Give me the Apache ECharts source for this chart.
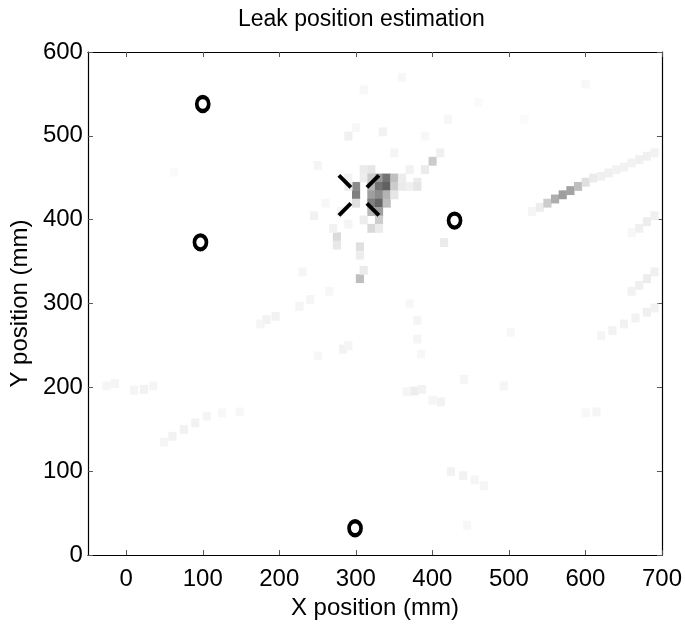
<!DOCTYPE html>
<html>
<head>
<meta charset="utf-8">
<title>Leak position estimation</title>
<script src="https://cdn.jsdelivr.net/npm/echarts@6/dist/echarts.min.js"></script>
<style>html,body{margin:0;padding:0;background:#fff}</style>
</head>
<body>
<div id="main" style="width:685px;height:625px"></div>
<script>
// tick labels
var xTicks = [0, 100, 200, 300, 400, 500, 600, 700];
var yTicks = [0, 100, 200, 300, 400, 500, 600];

// sensor positions (circles) and estimated leak (cross)
var sensorX = [100, 97, 429, 299];
var sensorY = [538, 373, 399, 32];
var estimateX = [304];
var estimateY = [429];

// intensity cells [x mm, y mm, level 0..1]
var leakCells = [
    [300, 440, 0.45], [300, 430, 0.5], [300, 420, 0.12], [290, 440, 0.07], [290, 450, 0.05],
    [320, 440, 0.3], [320, 430, 0.38], [320, 420, 0.5], [320, 410, 0.28],
    [330, 450, 0.4], [330, 440, 0.55], [330, 430, 0.45], [330, 420, 0.6], [330, 410, 0.38], [330, 400, 0.2],
    [340, 450, 0.55], [340, 440, 0.62], [340, 430, 0.3], [340, 420, 0.25],
    [350, 450, 0.25], [350, 440, 0.2], [350, 430, 0.1],
    [310, 450, 0.07], [310, 460, 0.08], [320, 460, 0.1], [320, 450, 0.2],
    [360, 440, 0.08], [360, 450, 0.07], [370, 440, 0.06], [380, 440, 0.1], [370, 460, 0.05],
    [320, 390, 0.15], [330, 390, 0.08], [310, 400, 0.07],
    [275, 380, 0.14], [275, 370, 0.09], [270, 390, 0.05],
    [305, 368, 0.12], [305, 358, 0.07], [305, 330, 0.25], [310, 340, 0.08],
    [400, 470, 0.2], [390, 460, 0.08], [410, 480, 0.06]
];
var streakCells = [
    [530, 410, 0.04], [540, 415, 0.07], [550, 420, 0.2], [560, 425, 0.32], [570, 430, 0.38],
    [580, 435, 0.36], [590, 440, 0.25], [600, 445, 0.12], [610, 450, 0.08], [620, 452, 0.06],
    [630, 456, 0.06], [640, 460, 0.05], [650, 463, 0.05], [660, 468, 0.05], [670, 472, 0.06],
    [680, 476, 0.06], [690, 480, 0.05],
    [660, 385, 0.03], [670, 390, 0.06], [680, 398, 0.07], [690, 405, 0.06],
    [660, 315, 0.05], [670, 322, 0.06], [680, 330, 0.07], [690, 338, 0.06],
    [620, 262, 0.04], [635, 268, 0.05], [650, 276, 0.05], [665, 283, 0.05], [680, 290, 0.06], [690, 295, 0.05]
];
var faintCells = [
    [380, 445, 0.08], [245, 405, 0.05], [250, 465, 0.04], [290, 500, 0.06], [300, 510, 0.03],
    [335, 505, 0.05], [310, 555, 0.03], [360, 570, 0.03], [415, 373, 0.08], [230, 338, 0.04],
    [280, 410, 0.04], [260, 420, 0.03], [290, 395, 0.04],
    [614, 171, 0.04], [600, 170, 0.03],
    [376, 196, 0.07], [386, 198, 0.05], [366, 195, 0.04], [380, 258, 0.04], [411, 183, 0.05],
    [400, 185, 0.04], [441, 210, 0.04], [493, 202, 0.04], [424, 100, 0.05], [440, 95, 0.05],
    [455, 90, 0.04], [467, 83, 0.04], [445, 36, 0.03], [502, 266, 0.03], [380, 280, 0.04],
    [385, 240, 0.03], [370, 300, 0.03],
    [250, 238, 0.03], [283, 246, 0.05], [290, 250, 0.04],
    [175, 276, 0.04], [183, 281, 0.05], [195, 285, 0.05], [226, 297, 0.04], [240, 305, 0.04], [265, 315, 0.03],
    [-26, 202, 0.04], [-15, 205, 0.04], [10, 197, 0.04], [23, 198, 0.05], [35, 202, 0.04],
    [49, 135, 0.04], [60, 142, 0.05], [75, 150, 0.05], [90, 158, 0.05], [105, 166, 0.04],
    [125, 170, 0.03], [148, 171, 0.03], [62, 457, 0.02],
    [420, 520, 0.03], [350, 480, 0.04], [390, 500, 0.03], [600, 562, 0.03], [520, 520, 0.02], [460, 540, 0.02]
];

var cells = faintCells.concat(streakCells, leakCells);
var sensors = sensorX.map(function (x, i) { return [x, sensorY[i]]; });
var estimate = estimateX.map(function (x, i) { return [x, estimateY[i]]; });

var font = 'Liberation Sans, Helvetica, Arial, sans-serif';
var myChart = echarts.init(document.getElementById('main'));

function frameAxis(pos, isX) {
    var ticks = isX ? xTicks : yTicks;
    return {
        type: 'value',
        position: pos,
        min: isX ? -50 : 0,
        max: isX ? 700 : 600,
        axisLine: { show: true, onZero: false, lineStyle: { color: '#000', width: 1.2 } },
        axisTick: { show: true, inside: true, length: 5, lineStyle: { color: '#555' }, customValues: ticks },
        axisLabel: { show: false, customValues: ticks },
        splitLine: { show: false }
    };
}

var xBottom = frameAxis('bottom', true);
xBottom.axisLabel = { show: true, customValues: xTicks, color: '#000', fontSize: 24, fontFamily: font, margin: 12 };
xBottom.name = 'X position (mm)';
xBottom.nameLocation = 'middle';
xBottom.nameGap = 38;
xBottom.nameTextStyle = { color: '#000', fontSize: 24, fontFamily: font };

var yLeft = frameAxis('left', false);
yLeft.axisLabel = { show: true, customValues: yTicks, color: '#000', fontSize: 24, fontFamily: font, margin: 5 };
yLeft.name = 'Y position (mm)';
yLeft.nameLocation = 'middle';
yLeft.nameGap = 54;
yLeft.nameTextStyle = { color: '#000', fontSize: 24, fontFamily: font };

var option = {
    animation: false,
    backgroundColor: '#fff',
    title: {
        text: 'Leak position estimation',
        left: 233,
        top: 3,
        textStyle: { color: '#000', fontSize: 23, fontWeight: 'normal', fontFamily: font }
    },
    grid: { left: 87, right: 23, top: 52, bottom: 68 },
    xAxis: [xBottom, frameAxis('top', true)],
    yAxis: [yLeft, frameAxis('right', false)],
    visualMap: {
        show: false,
        seriesIndex: 0,
        dimension: 2,
        min: 0,
        max: 1,
        inRange: { color: ['#ffffff', '#000000'] }
    },
    series: [{
        type: 'custom',
        silent: true,
        z: 1,
        data: cells,
        encode: { x: 0, y: 1 },
        renderItem: function (params, api) {
            var p0 = api.coord([api.value(0) - 5, api.value(1) + 5]);
            var p1 = api.coord([api.value(0) + 5, api.value(1) - 5]);
            return {
                type: 'rect',
                shape: { x: p0[0], y: p0[1], width: p1[0] - p0[0] + 0.5, height: p1[1] - p0[1] + 0.5 },
                style: { fill: api.visual('color') }
            };
        }
    }, {
        type: 'scatter',
        silent: true,
        z: 3,
        symbol: 'circle',
        symbolSize: [12, 14],
        itemStyle: { color: 'rgba(0,0,0,0)', borderColor: '#000', borderWidth: 4, opacity: 1 },
        data: sensors
    }, {
        type: 'custom',
        silent: true,
        z: 4,
        data: estimate,
        encode: { x: 0, y: 1 },
        renderItem: function (params, api) {
            var c = api.coord([api.value(0), api.value(1)]);
            var a = 8, b = 20;
            var st = { stroke: '#000', lineWidth: 4 };
            return {
                type: 'group',
                children: [
                    { type: 'line', shape: { x1: c[0] - b, y1: c[1] - b, x2: c[0] - a, y2: c[1] - a }, style: st },
                    { type: 'line', shape: { x1: c[0] + b, y1: c[1] - b, x2: c[0] + a, y2: c[1] - a }, style: st },
                    { type: 'line', shape: { x1: c[0] - b, y1: c[1] + b, x2: c[0] - a, y2: c[1] + a }, style: st },
                    { type: 'line', shape: { x1: c[0] + b, y1: c[1] + b, x2: c[0] + a, y2: c[1] + a }, style: st }
                ]
            };
        }
    }]
};
myChart.setOption(option, true);
</script>
</body>
</html>
